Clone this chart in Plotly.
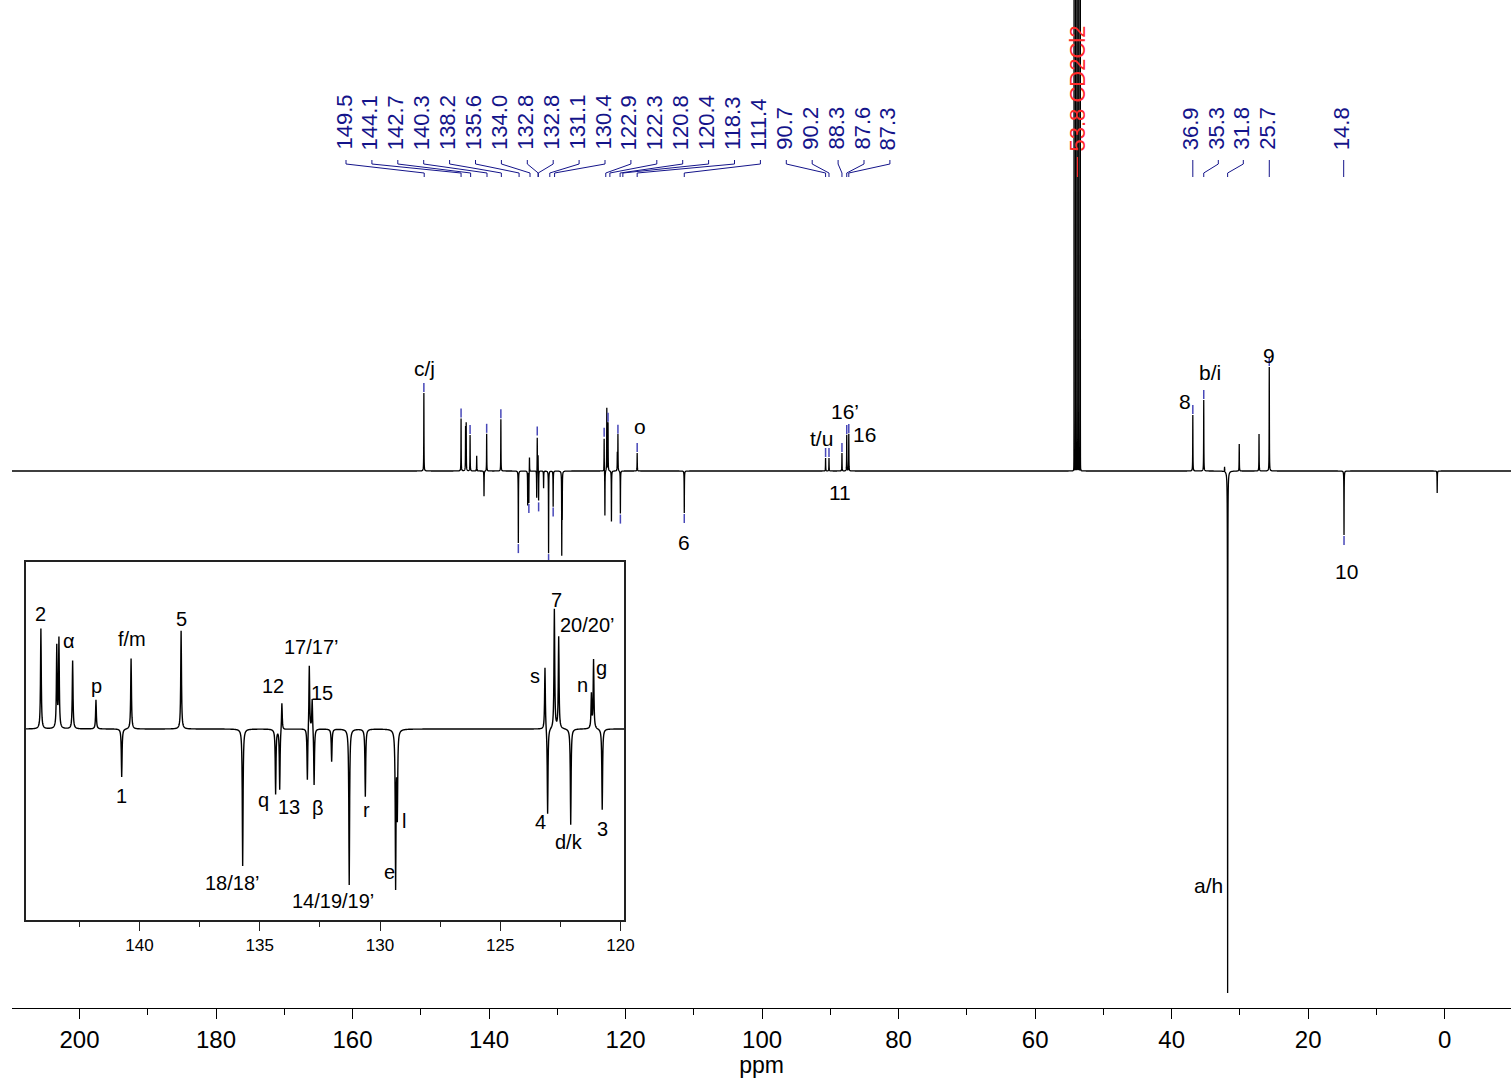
import numpy as np
import plotly.graph_objects as go

# ---------------- data ----------------
# chemical shift (ppm) of each resonance
peak_ppm = [149.55, 144.10, 143.44, 143.35, 142.78, 141.81, 140.74, 140.35, 138.27,
            135.71, 134.34, 134.17, 134.08, 133.02, 132.94, 132.82, 132.74, 132.01,
            131.28, 130.61, 129.35, 129.28, 123.14, 123.03, 122.75, 122.57, 122.07,
            121.21, 121.12, 120.76, 118.30, 111.40, 90.70, 90.20, 88.30,
            87.60, 87.30, 36.90, 35.30, 32.25,
            31.80, 30.10, 27.20, 25.70, 14.75, 1.10]
# signed intensity (positive = up, negative = down)
peak_int = [78, 52.5, 43, 47, 36, 15.3, -25.4, 37.2, 51.7,
            -72.1, -34.2, -32.1, 14.9, -28.4, 34.6, 16.8, -30.4, -17.2,
            -82.1, -35.6, -82, -44, 33.2, -45.8, 63, 48.3, -50.5,
            18, 36.3, -42.6, 18, -42, 13, 13, 18,
            36, 37, 56, 71, 5,
            -522, 27, 37, 104, -64, -22]
# peaks carrying a small peak-pick tick
peak_marked = [1, 1, 0, 0, 1, 0, 0, 1, 1,
               1, 0, 1, 0, 0, 1, 0, 1, 0,
               1, 1, 0, 0, 1, 0, 0, 1, 0,
               0, 1, 1, 1, 1, 1, 1, 1,
               1, 1, 1, 1, 0,
               0, 0, 0, 1, 1, 0]

# CD2Cl2 solvent multiplet (off scale)
solvent_ppm = [54.30, 54.07, 53.84, 53.61, 53.38]
solvent_int = [600, 800, 1000, 800, 600]

# peak-pick labels at the top
pick_left = ["149.5", "144.1", "142.7", "140.3", "138.2", "135.6", "134.0", "132.8",
             "132.8", "131.1", "130.4", "122.9", "122.3", "120.8", "120.4", "118.3",
             "111.4", "90.7", "90.2", "88.3", "87.6", "87.3"]
pick_right = ["36.9", "35.3", "31.8", "25.7", "14.8"]
solvent_value = 53.8
solvent_text = "53.8 CD2Cl2"

# assignment labels on the full spectrum
main_labels = ["c/j", "o", "6", "t/u", "16’", "16", "11", "8", "b/i", "9", "10", "a/h"]
# assignment labels in the expanded region
inset_labels = ["2", "α", "p", "f/m", "1", "5", "12", "17/17’", "15", "q", "13", "β",
                "18/18’", "r", "l", "e", "14/19/19’", "s", "7", "20/20’", "n", "g",
                "4", "d/k", "3"]

# ---------------- geometry helpers ----------------
W, H = 1511, 1078
L, B = 12, 70
PW, PH = W - L, H - B          # plot area 1499 x 1008
X0, S = 1444.7, 6.826          # main axis: px of 0 ppm, px per ppm
BASE = 471                     # baseline pixel row (main)
IX0, IS = 139.5, 24.05         # inset: px of 140 ppm, px per ppm
IBASE, K = 729, 1.9            # inset baseline row, vertical zoom factor
BOX = (26, 562, 624, 920)      # inset box


def mx(px):
    return (X0 - px) / S


def my(py):
    return BASE - py


def ix(px):
    return 140 - (px - IX0) / IS


def iy(py):
    return (IBASE - py) / K


# ---------------- spectrum ----------------
hw, hw_solv = 0.018, 0.003
grid = np.unique(np.concatenate([np.arange(-9.8, 210.0, 0.01), np.array(peak_ppm),
                                 np.array(solvent_ppm)]))
spec = np.zeros_like(grid)
for p, h in zip(peak_ppm, peak_int):
    spec += h * hw**2 / (hw**2 + (grid - p) ** 2)
for p, h in zip(solvent_ppm, solvent_int):
    spec += h * hw_solv**2 / (hw_solv**2 + (grid - p) ** 2)

lo, hi = ix(BOX[2]), ix(BOX[0])
sel = (grid > lo - 0.2) & (grid < hi + 0.2)

fig = go.Figure()
fig.add_trace(go.Scatter(x=grid, y=spec, mode="lines",
                         line=dict(color="black", width=1.3, simplify=False),
                         hoverinfo="skip", showlegend=False))
fig.add_trace(go.Scatter(x=grid[sel], y=spec[sel], mode="lines", xaxis="x2", yaxis="y2",
                         line=dict(color="black", width=1.4, simplify=False),
                         hoverinfo="skip", showlegend=False))

# peak pick ticks
mxs, mys = [], []
for p, h, m in zip(peak_ppm, peak_int, peak_marked):
    if m:
        s = 1 if h > 0 else -1
        mxs += [p, p, None]
        mys += [h + s * 1, h + s * 10, None]
fig.add_trace(go.Scatter(x=mxs, y=mys, mode="lines",
                         line=dict(color="#4848b8", width=1.5),
                         hoverinfo="skip", showlegend=False))

# connectors of the top labels
navy = "#14148a"
left_px = [346 + i * 25.9 for i in range(len(pick_left))]
right_px = [1192.8, 1218.3, 1243.3, 1269.3, 1343.7]
cx, cy = [], []
annotations = []
for txt, lp in list(zip(pick_left, left_px)) + list(zip(pick_right, right_px)):
    v = float(txt)
    cx += [mx(lp), mx(lp), v, v, None]
    cy += [my(160), my(164), my(173), my(177), None]
    annotations.append(dict(x=mx(lp - 2), y=my(151), xref="x", yref="y", text=txt,
                            textangle=-90, showarrow=False, xanchor="center",
                            yanchor="bottom", borderpad=0,
                            font=dict(size=22, color=navy)))
fig.add_trace(go.Scatter(x=cx, y=cy, mode="lines", line=dict(color=navy, width=1),
                         hoverinfo="skip", showlegend=False))
fig.add_trace(go.Scatter(x=[solvent_value, solvent_value], y=[my(157), my(177)], mode="lines",
                         line=dict(color="#ff2a2a", width=1.2), hoverinfo="skip",
                         showlegend=False))
annotations.append(dict(x=solvent_value, y=my(152), xref="x", yref="y", text=solvent_text,
                        textangle=-90, showarrow=False, xanchor="center", yanchor="bottom",
                        borderpad=0, font=dict(size=22, color="#ff2a2a")))

# assignment labels (main)
main_pos = [(424, 368), (640, 426), (684, 542), (821, 438), (845, 411), (864, 434),
            (840, 492), (1185, 401), (1210, 372), (1269, 355), (1346, 571), (1208, 885)]
for t, (px, py) in zip(main_labels, main_pos):
    annotations.append(dict(x=mx(px), y=my(py), xref="x", yref="y", text=t, showarrow=False,
                            xanchor="center", yanchor="middle", borderpad=0,
                            font=dict(size=21, color="black")))

inset_pos = [(40, 614), (69, 641), (96, 686), (132, 639), (121, 796), (181, 619),
             (273, 686), (311, 647), (322, 693), (263, 800), (289, 807), (318, 808),
             (232, 883), (366, 810), (404, 821), (389, 872), (333, 901), (535, 676),
             (556, 600), (587, 625), (582, 685), (601, 668), (540, 822), (569, 842),
             (602, 829)]
for t, (px, py) in zip(inset_labels, inset_pos):
    annotations.append(dict(x=ix(px), y=iy(py), xref="x2", yref="y2", text=t,
                            showarrow=False, xanchor="center", yanchor="middle", borderpad=0,
                            font=dict(size=20, color="black")))

font_family = "Liberation Sans, Arial, sans-serif"
fig.update_layout(
    width=W, height=H, autosize=False,
    margin=dict(l=L, r=0, t=0, b=B, pad=0, autoexpand=False),
    paper_bgcolor="white", plot_bgcolor="white",
    font=dict(family=font_family, color="black"),
    showlegend=False,
    annotations=annotations,
    xaxis=dict(range=[mx(L), mx(W)], domain=[0, 1], anchor="y", automargin=False,
               showline=True, linecolor="black", linewidth=1.3,
               ticks="outside", ticklen=10, tickwidth=1.2, tickcolor="black",
               tick0=0, dtick=20,
               minor=dict(dtick=10, ticks="outside", ticklen=6, tickwidth=1, tickcolor="black"),
               tickfont=dict(size=24), showgrid=False, zeroline=False,
               title=dict(text="ppm", font=dict(size=23), standoff=0)),
    yaxis=dict(range=[my(PH), my(0)], domain=[0, 1], visible=False, fixedrange=True,
               automargin=False),
    xaxis2=dict(range=[ix(BOX[0]), ix(BOX[2])],
                domain=[(BOX[0] - L) / PW, (BOX[2] - L) / PW], anchor="y2",
                showline=True, mirror=True, linecolor="#222", linewidth=1.5,
                ticks="outside", ticklen=9, tickwidth=1.2, tickcolor="#222",
                tick0=0, dtick=5,
                minor=dict(dtick=2.5, ticks="outside", ticklen=5, tickwidth=1, tickcolor="#222"),
                tickfont=dict(size=17), showgrid=False, zeroline=False),
    yaxis2=dict(range=[iy(BOX[3]), iy(BOX[1])],
                domain=[(PH - BOX[3]) / PH, (PH - BOX[1]) / PH], anchor="x2",
                showline=True, mirror=True, linecolor="#222", linewidth=1.5,
                showticklabels=False, ticks="", showgrid=False, zeroline=False),
)

fig.write_html("out.html", config={"displayModeBar": False})
